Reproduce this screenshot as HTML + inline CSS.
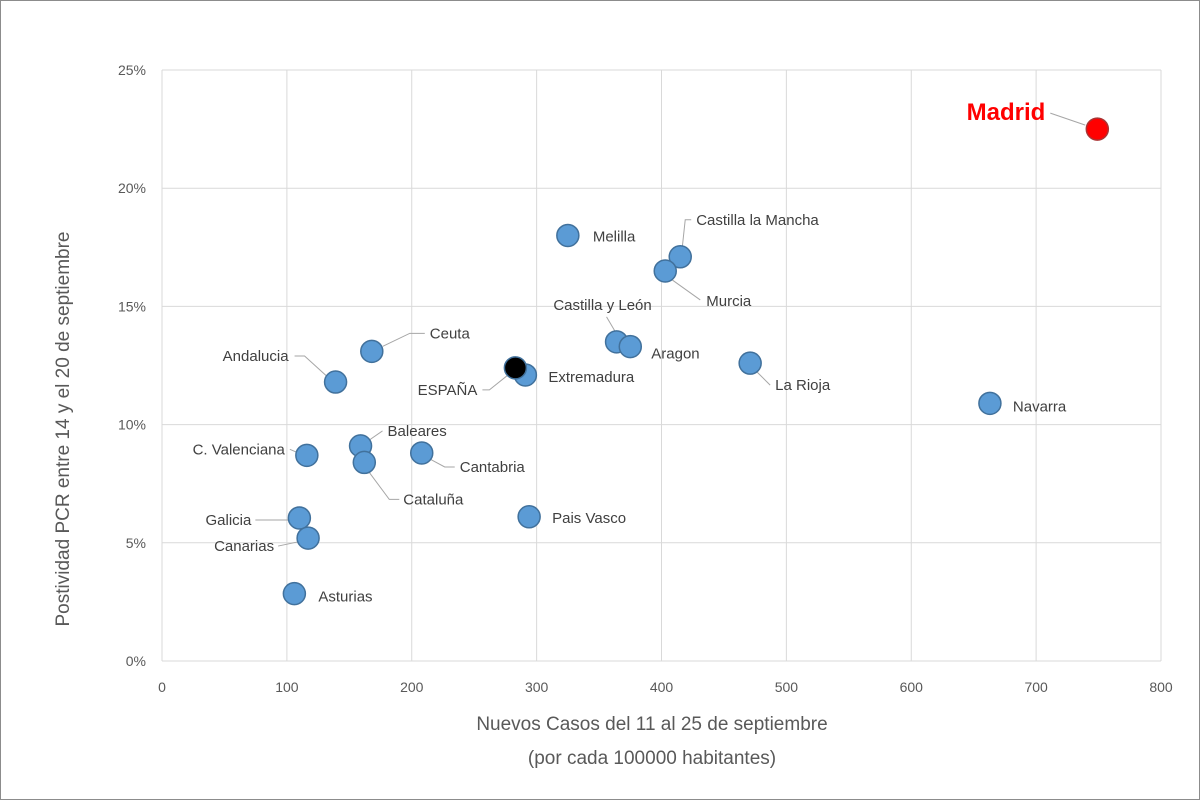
<!DOCTYPE html>
<html><head><meta charset="utf-8"><style>
body{margin:0;background:#fff;}
svg{display:block;font-family:"Liberation Sans",sans-serif;}
</style></head><body>
<svg id="chart" width="1200" height="800" viewBox="0 0 1200 800">
<rect x="0.5" y="0.5" width="1199" height="799" fill="#fff" stroke="#8c8c8c"/>
<g id="grid"></g><g id="ticks"></g><g id="leaders"></g><g id="points"></g><g id="labels"></g>
<text x="60" y="420" transform="rotate(-90 69 420)" text-anchor="middle" font-size="19" fill="#595959">Postividad PCR entre 14 y el 20 de septiembre</text>
<text x="652" y="730" text-anchor="middle" font-size="19" fill="#595959">Nuevos Casos del 11 al 25 de septiembre</text>
<text x="652" y="764" text-anchor="middle" font-size="19" fill="#595959">(por cada 100000 habitantes)</text>
</svg>
<script>
const regions=["Madrid","Navarra","La Rioja","Castilla la Mancha","Murcia","Melilla","Castilla y León","Aragon","Extremadura","ESPAÑA","Ceuta","Andalucia","Baleares","Cataluña","Cantabria","C. Valenciana","Pais Vasco","Galicia","Canarias","Asturias"];
const cases=[749,663,471,415,403,325,364,375,291,283,168,139,159,162,208,116,294,110,117,106];
const positivity=[22.5,10.9,12.6,17.1,16.5,18.0,13.5,13.3,12.1,12.4,13.1,11.8,9.1,8.4,8.8,8.7,6.1,6.05,5.2,2.85];
const xTicks=[0,100,200,300,400,500,600,700,800];
const yTicks=[0,5,10,15,20,25];
// label layout: [dx,dy,anchor, leader points relative to marker or null]
const lab={
"Madrid":[-52,-9,"end",[[-47,-16],[-12,-4]]],
"Navarra":[23,8,"start",null],
"La Rioja":[25,27,"start",[[7,9],[20,22]]],
"Castilla la Mancha":[16,-32,"start",[[2,-9],[5,-37],[11,-37]]],
"Murcia":[41,35,"start",[[7,9],[35,29]]],
"Melilla":[25,6,"start",null],
"Castilla y León":[-14,-32,"middle",[[-10,-25],[0,-8]]],
"Aragon":[21,12,"start",null],
"Extremadura":[23,7,"start",null],
"ESPAÑA":[-38,27,"end",[[-33,22],[-26,22],[-6,6]]],
"Ceuta":[58,-13,"start",[[53,-18],[38,-18],[11,-5]]],
"Andalucia":[-47,-21,"end",[[-41,-26],[-31,-26],[-9,-6]]],
"Baleares":[27,-10,"start",[[22,-15],[9,-6]]],
"Cataluña":[39,42,"start",[[35,37],[25,37],[5,10]]],
"Cantabria":[38,19,"start",[[33,14],[23,14],[8,6]]],
"C. Valenciana":[-22,-1,"end",[[-17,-6],[-10,-3]]],
"Pais Vasco":[23,6,"start",null],
"Galicia":[-48,7,"end",[[-44,2],[-10,2]]],
"Canarias":[-34,13,"end",[[-30,8],[-11,4]]],
"Asturias":[24,8,"start",null]};
const X=v=>162+v*(999/800), Y=v=>661-v*(591/25);
const NS="http://www.w3.org/2000/svg";
function mk(p,t,a){const e=document.createElementNS(NS,t);for(const k in a)e.setAttribute(k,a[k]);document.getElementById(p).appendChild(e);return e;}
xTicks.forEach(t=>{
 const l=mk("grid","line",{x1:X(t),x2:X(t),y1:Y(0),y2:Y(25),stroke:"#d9d9d9"});
 
 
 const s=mk("ticks","text",{x:X(t),y:692,"text-anchor":"middle","font-size":14,fill:"#595959"});s.textContent=t;
 
 
});
yTicks.forEach(t=>{
 const l=mk("grid","line",{x1:X(0),x2:X(800),y1:Y(t),y2:Y(t),stroke:"#d9d9d9"});
 
 
 const s=mk("ticks","text",{x:146,y:Y(t)+5,"text-anchor":"end","font-size":14,fill:"#595959"});s.textContent=t+"%";
 
 
});
regions.forEach((r,i)=>{
 const cx=X(cases[i]),cy=Y(positivity[i]);
 const fill=r==="Madrid"?"#ff0000":r==="ESPAÑA"?"#000":"#5b9bd5";
 const c=mk("points","circle",{cx,cy,r:11,fill,stroke:r==="Madrid"?"#a33":"#41719c","stroke-width":1.5});
 
 
 const L=lab[r];
 if(L[3]){const pl=mk("leaders","polyline",{points:L[3].map(p=>(cx+p[0])+","+(cy+p[1])).join(" "),fill:"none",stroke:"#a6a6a6","stroke-width":1});
  
  }
 const big=r==="Madrid";
 const t=mk("labels","text",{x:cx+L[0],y:cy+L[1],"text-anchor":L[2],"font-size":big?24:15,"font-weight":big?"bold":"normal",fill:big?"#ff0000":"#404040"});
 t.textContent=r;
 
 
});
</script>
</body></html>
